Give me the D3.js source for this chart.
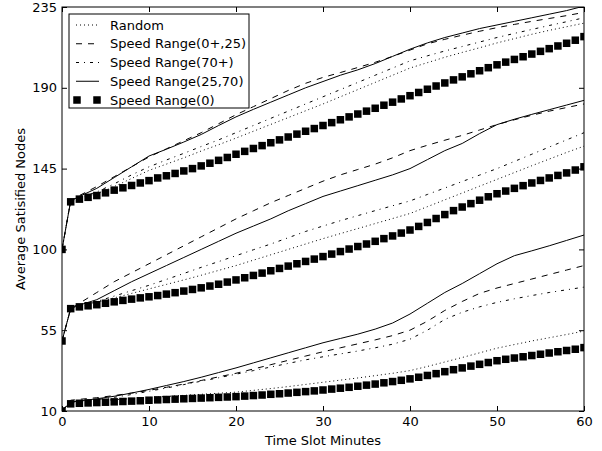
<!DOCTYPE html>
<html>
<head>
<meta charset="utf-8">
<script src="https://cdn.jsdelivr.net/npm/d3@7"></script>
<style>
  body { margin: 0; background: #fff; }
  text { font-family: "DejaVu Sans", sans-serif; }
</style>
</head>
<body>
<svg id="chart" width="602" height="451"></svg>
<script>
// minutes for the line series (read at these points)
const lineMinutes = [0,1,2,4,6,8,10,12,14,16,18,20,22,24,26,28,30,32,34,36,38,40,42,44,46,48,50,52,54,56,58,60];
// minutes for the square-marker series (one marker each minute)
const markMinutes = [0,1,2,3,4,5,6,7,8,9,10,11,12,13,14,15,16,17,18,19,20,21,22,23,24,25,26,27,28,29,30,
  31,32,33,34,35,36,37,38,39,40,41,42,43,44,45,46,47,48,49,50,51,52,53,54,55,56,57,58,59,60];

const xTicks = [0,10,20,30,40,50,60];
const yTicks = [10,55,100,145,190,235];

// top group
const randomTop = [100,127,128.5,131,135,139.5,144,147.5,151,154.8,158.3,162,165.8,169.6,173.4,177.2,181,185,189,193,197,201,204,207,209.7,212.3,215,217.4,219.8,222,224,226];
const slowTop   = [100,127,130,135,140.5,146,151.5,156,160.5,165,170,175,179.5,184,188.5,192.5,195.8,198.5,201.3,204.2,207.5,211,214.5,217,219.3,221.5,223.5,225.3,227,228.6,230.2,232];
const fastTop   = [100,127,128.8,132,136.5,141.5,146,149.8,153.5,157.3,161,165,169,173,177,181,185,189,193,197,201,205,207.8,210.5,213,215.5,218,220.3,222.5,224.7,226.8,229];
const midTop    = [100,127,129.5,134,140,146,152,155.8,159.8,164,169,173.8,178,182,186,190,193.5,197,200,203.5,207.5,211.5,215,218,220.5,223,225,227,229,231,233,235.5];
const zeroTop   = [100,126.5,128,129,130,131.5,133,134.3,135.6,137,138.3,139.8,141,142.3,143.7,145,146.5,148,149.6,151.2,153,154.6,156.2,157.8,159.4,161,162.6,164.2,165.8,167.3,169,
  170.6,172.2,173.8,175.4,177,178.6,180.3,182,183.8,185.6,187.4,189.2,191,192.7,194.4,196.1,197.8,199.5,201.2,202.8,204.3,205.8,207.3,208.8,210.3,211.8,213.3,214.8,216.5,218.5];

// middle group
const randomMid = [49,67,68.3,70.5,73,75.5,78,80.5,83,85.6,88.3,91,94,97,100,103,106,108.8,111.6,114.4,117.2,120,123.8,127.6,131.4,135.2,139,142.8,146.6,150.3,154,157.5];
const slowMid   = [49,67,70,76,82,87,92,97,102,107,112,117,121.5,126,130,134,138,141.5,144.5,147.5,151,155,158,160.8,163.5,166.5,169.5,172.2,174.7,177,179,181];
const fastMid   = [49,67,68.5,71,74,77,80,83.3,86.6,90,93.2,96.5,99.8,103,106.5,110,113,116,118.8,121.6,124.3,127,130.6,134.2,137.8,141.4,145,149,153,157,161,165];
const midMid    = [49,67,69,72,77,82,86.5,91,95.5,100,104.5,109,113,117,121.5,125.5,129.5,132.5,135.5,138.5,141.5,145,150,155,159,164.5,169.5,172.5,175.2,177.8,180.4,183];
const zeroMid   = [49,67,68,68.6,69.2,70,70.8,71.6,72.3,73,73.6,74.3,75.1,75.9,76.8,77.7,78.6,79.6,80.6,81.8,83,84.2,85.5,86.8,88.1,89.4,90.7,92,93.3,94.6,96,
  97.4,98.8,100.2,101.6,103,104.5,106,107.5,109.1,110.8,112.8,115,117.2,119.4,121.6,123.6,125.5,127.4,129.3,131,132.5,134,135.5,137,138.4,139.8,141.2,142.6,144.2,146];

// bottom group
const randomBot = [10,15,15.3,15.7,16.3,16.9,17.5,18.1,18.7,19.3,19.9,20.5,21.5,22.5,23.6,24.8,26,27.2,28.4,29.7,31,32.5,34.8,37.3,39.8,42.4,45,47,49,50.8,52.6,54.5];
const slowBot   = [10,16,16.5,17.4,18.6,20,21.5,23.2,25,27,29,31,33.4,35.8,38.2,40.6,43,45.2,47.4,49.6,52,55,60,66,71,75.5,78.5,81,83.5,86,88.5,91];
const fastBot   = [10,15,15.5,16.4,17.6,19.2,21,22.8,24.7,26.6,28.5,30.5,32.5,34.5,36.5,38.5,40.2,41.8,43.4,45.2,47.2,50,55,61,65,68,70.5,72.5,74.3,76,77.5,79];
const midBot    = [10,15,15.6,16.8,18.2,20,22,24.2,26.4,28.8,31.4,34,36.8,39.6,42.4,45.2,48,50.4,52.8,55.6,59,64,70,76,81,86.5,92,96.5,99.2,102,105,108];
const zeroBot   = [10,14,14.3,14.5,14.7,14.9,15.1,15.3,15.5,15.7,16,16.2,16.4,16.6,16.8,17,17.2,17.4,17.6,17.8,18,18.3,18.6,18.9,19.3,19.6,20,20.4,20.8,21.2,21.7,
  22.2,22.7,23.2,23.8,24.4,25,25.7,26.4,27.1,27.9,28.8,29.8,30.8,31.9,33,34,35,36,37,38,38.8,39.5,40.2,40.9,41.6,42.3,43,43.7,44.4,45.3];

const labels = ['Random', 'Speed Range(0+,25)', 'Speed Range(70+)', 'Speed Range(25,70)', 'Speed Range(0)'];
const dashes = ['1,3', '6,6', '3,5,1,5', null];

const svg = d3.select('#chart');
const pLeft = 62, pRight = 584, pTop = 7, pBottom = 411;

const x = d3.scaleLinear().domain([0, 60]).range([pLeft, pRight]);
const y = d3.scaleLinear().domain([10, 235]).range([pBottom, pTop]);

svg.append('defs').append('clipPath').attr('id', 'plot')
  .append('rect')
  .attr('x', pLeft).attr('y', pTop)
  .attr('width', pRight - pLeft).attr('height', pBottom - pTop);

const plot = svg.append('g').attr('clip-path', 'url(#plot)');

const line = d3.line()
  .x((d, i) => x(lineMinutes[i]))
  .y(d => y(d));

const groups = [
  [randomTop, slowTop, fastTop, midTop, zeroTop],
  [randomMid, slowMid, fastMid, midMid, zeroMid],
  [randomBot, slowBot, fastBot, midBot, zeroBot]
];

groups.forEach(g => {
  for (let k = 0; k < 4; k++) {
    plot.append('path')
      .datum(g[k])
      .attr('fill', 'none')
      .attr('stroke', '#000')
      .attr('stroke-width', 1)
      .attr('stroke-dasharray', dashes[k])
      .attr('d', line);
  }
});

const sq = 7.5;
groups.forEach(g => {
  plot.append('g').selectAll('rect')
    .data(g[4])
    .join('rect')
    .attr('x', (d, i) => x(markMinutes[i]) - sq / 2)
    .attr('y', d => y(d) - sq / 2)
    .attr('width', sq)
    .attr('height', sq)
    .attr('fill', '#000');
});

// axes, ticks pointing in on all four sides
const axisB = svg.append('g')
  .attr('transform', `translate(0,${pBottom})`)
  .call(d3.axisBottom(x).tickValues(xTicks).tickSizeInner(-5).tickSizeOuter(0).tickPadding(6));
const axisT = svg.append('g')
  .attr('transform', `translate(0,${pTop})`)
  .call(d3.axisTop(x).tickValues(xTicks).tickSizeInner(-5).tickSizeOuter(0).tickFormat(''));
const axisL = svg.append('g')
  .attr('transform', `translate(${pLeft},0)`)
  .call(d3.axisLeft(y).tickValues(yTicks).tickSizeInner(-5).tickSizeOuter(0).tickPadding(5));
const axisR = svg.append('g')
  .attr('transform', `translate(${pRight},0)`)
  .call(d3.axisRight(y).tickValues(yTicks).tickSizeInner(-5).tickSizeOuter(0).tickFormat(''));

[axisB, axisT, axisL, axisR].forEach(a => {
  a.select('.domain').remove();
  a.selectAll('text').attr('font-size', 13).attr('font-family', '"DejaVu Sans", sans-serif').attr('fill', '#000');
  a.selectAll('line').attr('stroke', '#000');
});

svg.append('rect')
  .attr('x', pLeft).attr('y', pTop)
  .attr('width', pRight - pLeft).attr('height', pBottom - pTop)
  .attr('fill', 'none').attr('stroke', '#000').attr('stroke-width', 1);

svg.append('text')
  .attr('x', (pLeft + pRight) / 2).attr('y', 445)
  .attr('text-anchor', 'middle').attr('font-size', 13)
  .text('Time Slot Minutes');

svg.append('text')
  .attr('transform', `translate(20,${(pTop + pBottom) / 2}) rotate(-90)`)
  .attr('text-anchor', 'middle').attr('dy', '0.35em').attr('font-size', 13)
  .text('Average Satisified Nodes');

// legend
const legend = svg.append('g');
legend.append('rect')
  .attr('x', 69).attr('y', 14).attr('width', 180).attr('height', 94)
  .attr('fill', '#fff').attr('stroke', '#000').attr('stroke-width', 1);

labels.forEach((lab, i) => {
  const cy = 25 + i * 18.75;
  if (i < 4) {
    legend.append('line')
      .attr('x1', 76).attr('x2', 99).attr('y1', cy).attr('y2', cy)
      .attr('stroke', '#000').attr('stroke-width', 1)
      .attr('stroke-dasharray', dashes[i]);
  } else {
    [77, 97].forEach(px => {
      legend.append('rect')
        .attr('x', px - sq / 2).attr('y', cy - sq / 2)
        .attr('width', sq).attr('height', sq).attr('fill', '#000');
    });
  }
  legend.append('text')
    .attr('x', 110).attr('y', cy).attr('dy', '0.36em')
    .attr('font-size', 13)
    .text(lab);
});
</script>
</body>
</html>
